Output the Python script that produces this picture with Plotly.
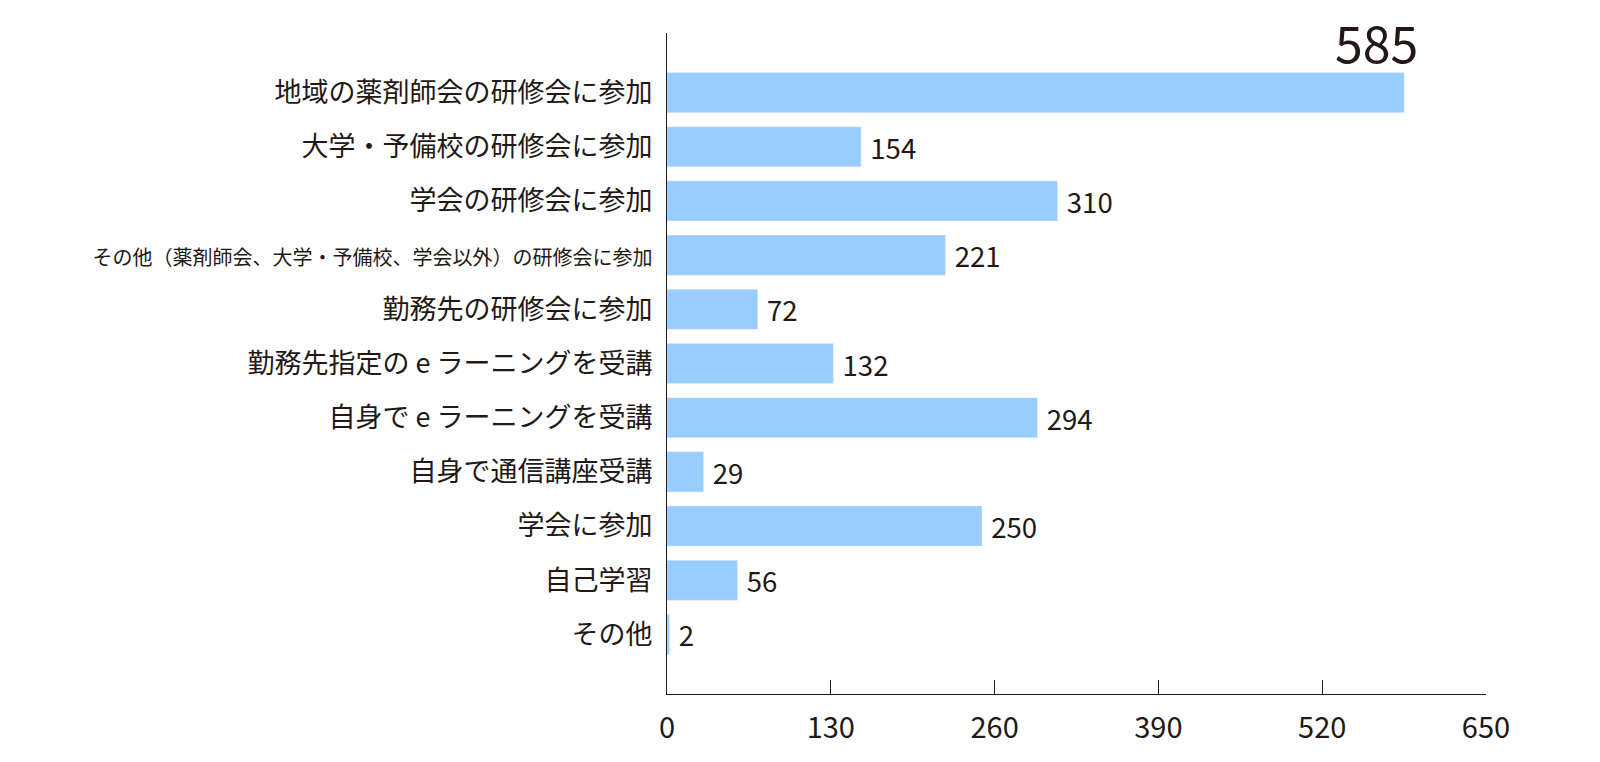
import plotly.graph_objects as go

categories = ["地域の薬剤師会の研修会に参加", "大学・予備校の研修会に参加", "学会の研修会に参加",
              "その他（薬剤師会、大学・予備校、学会以外）の研修会に参加", "勤務先の研修会に参加",
              "勤務先指定の e ラーニングを受講", "自身で e ラーニングを受講", "自身で通信講座受講",
              "学会に参加", "自己学習", "その他"]
values = [585, 154, 310, 221, 72, 132, 294, 29, 250, 56, 2]
tick_vals = [0, 130, 260, 390, 520, 650]

FONT = "Noto Sans CJK JP"
DARK = "#231815"
labels = ["" if i == 0 else " " + str(v) for i, v in enumerate(values)]
tick_text = [f'<span style="font-size:20px">{c}</span>' if len(c) > 20 else c for c in categories]

fig = go.Figure(go.Bar(
    y=categories, x=values, orientation="h", marker_color="#99ccff",
    text=labels, textposition="outside", cliponaxis=False,
    textfont=dict(size=31, color=DARK, family=FONT),
))
fig.add_annotation(x=values[0], y=categories[0], text=str(values[0]), showarrow=False,
                   xanchor="center", yanchor="bottom", yshift=14, xshift=-28,
                   font=dict(size=50, color=DARK, family=FONT))
fig.update_layout(
    width=1600, height=762, plot_bgcolor="white", paper_bgcolor="white",
    margin=dict(l=659, r=122, t=25, b=76), bargap=0.26, showlegend=False,
    font=dict(family=FONT, color=DARK),
    xaxis=dict(range=[0, 650], tickvals=tick_vals, showgrid=False, zeroline=False,
               showline=True, linecolor=DARK, linewidth=1, ticks="inside", ticklen=14,
               tickcolor=DARK, ticklabelstandoff=8, automargin=False,
               tickfont=dict(size=29, color=DARK, family=FONT)),
    yaxis=dict(autorange=False, range=[len(categories) - 1 + 1.1, -1.1], showgrid=False,
               showline=True, linecolor=DARK, linewidth=1, ticks="", ticklen=0,
               automargin=False, tickvals=categories, ticktext=tick_text,
               ticklabelstandoff=8, tickfont=dict(size=27, color=DARK, family=FONT)),
)
fig.write_html("out.html")
